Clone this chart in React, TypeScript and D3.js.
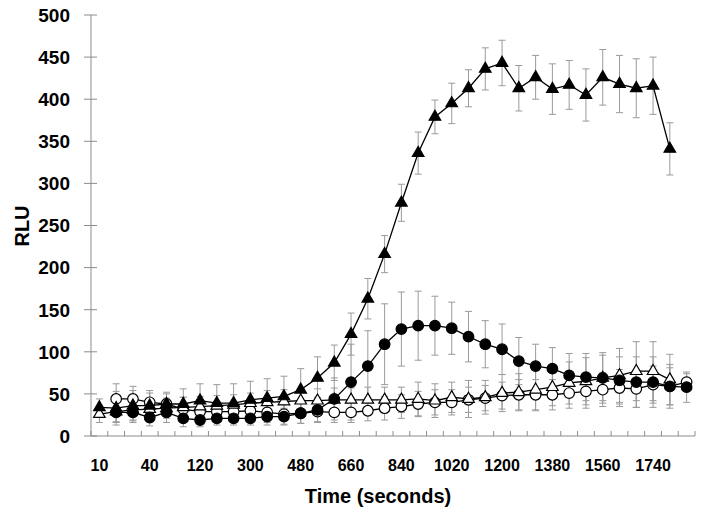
import { useRef, useEffect } from "react";
import * as d3 from "d3";

// sampling times (s), one category per point
const times = [
  10, 20, 30, 40, 60, 90, 120, 180, 240, 300, 360, 420, 480, 540, 600, 660, 720, 780,
  840, 900, 960, 1020, 1080, 1140, 1200, 1260, 1320, 1380, 1440, 1500, 1560, 1620, 1680,
  1740, 1800, 1860,
];
const tickLabels = ["10", "40", "120", "300", "480", "660", "840", "1020", "1200", "1380", "1560", "1740"];
const yTicks = [0, 50, 100, 150, 200, 250, 300, 350, 400, 450, 500];

// filled triangles
const triFilled = [
  34, 33, 36, 36, 38, 38, 42, 39, 39, 43, 45, 47, 55, 69, 87, 121, 163, 216, 277, 336, 379,
  395, 413, 436, 443, 413, 426, 412, 417, 405, 426, 418, 413, 416, 341,
];
const triFilledErr = [
  10, 20, 18, 15, 14, 18, 20, 22, 23, 22, 23, 24, 25, 25, 21, 25, 24, 22, 22, 25, 20, 24, 22,
  25, 27, 27, 26, 30, 29, 31, 33, 34, 35, 34, 31,
];
// filled circles (no reading at the first time point)
const circFilled: (number | null)[] = [
  null, 28, 28, 22, 28, 21, 19, 21, 21, 21, 23, 23, 27, 31, 44, 64, 83, 109, 127, 131, 131, 128,
  118, 109, 103, 89, 83, 80, 72, 70, 69, 66, 64, 64, 59, 58,
];
const circFilledErr = [
  0, 12, 12, 10, 12, 10, 8, 8, 8, 8, 10, 10, 12, 15, 25, 45, 42, 48, 44, 41, 35, 31, 30, 28,
  30, 28, 26, 25, 26, 28, 27, 28, 30, 30, 26, 18,
];
// open circles (no reading at the first time point)
const circOpen: (number | null)[] = [
  null, 44, 44, 40, 38, 32, 29, 29, 29, 30, 28, 26, 27, 29, 28, 28, 30, 33, 35, 38, 40, 40, 43,
  45, 48, 49, 49, 49, 51, 53, 55, 57, 56, 61, 59, 64,
];
const circOpenErr = [
  0, 18, 15, 14, 12, 14, 12, 12, 12, 12, 12, 12, 12, 12, 12, 12, 12, 14, 14, 15, 15, 15, 15,
  15, 16, 18, 18, 18, 18, 20, 20, 22, 22, 22, 22, 10,
];
// open triangles
const triOpen = [
  26, 29, 31, 32, 33, 34, 35, 36, 37, 39, 40, 41, 42, 42, 43, 43, 43, 43, 43, 44, 42, 46, 44,
  46, 51, 52, 55, 58, 63, 65, 69, 72, 77, 77, 67,
];
const triOpenErr = [
  10, 12, 12, 12, 12, 12, 12, 12, 12, 12, 14, 14, 14, 14, 14, 14, 15, 15, 15, 20, 20, 18, 22,
  20, 22, 22, 25, 22, 25, 28, 30, 32, 35, 35, 30,
];

export default function App() {
  const svgRef = useRef<SVGSVGElement>(null);

  useEffect(() => {
    if (!svgRef.current) return;
    const width = 702;
    const height = 516;
    const left = 91;
    const right = 695;
    const top = 15;
    const bottom = 436;

    const svg = d3.select(svgRef.current);
    svg.selectAll("*").remove();
    svg.attr("width", width).attr("height", height);

    const x = d3.scaleBand<number>().domain(times).range([left, right]).padding(0);
    const bw = x.bandwidth();
    const cx = (i: number) => (x(times[i]) ?? 0) + bw / 2;
    const y = d3.scaleLinear().domain([0, 500]).range([bottom, top]);

    const axisColor = "#8c8c8c";
    const font = "Liberation Sans, Arial, sans-serif";

    // y axis
    svg.append("line")
      .attr("x1", left).attr("x2", left).attr("y1", y(500)).attr("y2", y(0))
      .attr("stroke", axisColor);
    svg.selectAll(".ytick")
      .data(yTicks)
      .join("line")
      .attr("x1", left - 7).attr("x2", left + 6)
      .attr("y1", (d) => y(d)).attr("y2", (d) => y(d))
      .attr("stroke", axisColor);
    svg.selectAll(".ylab")
      .data(yTicks)
      .join("text")
      .attr("x", 70)
      .attr("y", (d) => y(d))
      .attr("dy", "0.36em")
      .attr("text-anchor", "end")
      .style("font-family", font)
      .style("font-weight", "bold")
      .style("font-size", "19px")
      .text((d) => d);

    // x axis
    svg.append("line")
      .attr("x1", left).attr("x2", right).attr("y1", bottom).attr("y2", bottom)
      .attr("stroke", axisColor);
    const bounds = [...times.map((t) => x(t) ?? 0), right];
    svg.selectAll(".xtick")
      .data(bounds)
      .join("line")
      .attr("x1", (d) => d).attr("x2", (d) => d)
      .attr("y1", bottom - 5).attr("y2", bottom)
      .attr("stroke", axisColor);
    svg.selectAll(".xlab")
      .data(tickLabels)
      .join("text")
      .attr("x", (_, i) => cx(i * 3))
      .attr("y", 471)
      .attr("text-anchor", "middle")
      .style("font-family", font)
      .style("font-weight", "bold")
      .style("font-size", "16px")
      .text((d) => d);

    svg.append("text")
      .attr("x", 378).attr("y", 503)
      .attr("text-anchor", "middle")
      .style("font-family", font)
      .style("font-weight", "bold")
      .style("font-size", "20px")
      .text("Time (seconds)");
    svg.append("text")
      .attr("transform", `translate(29,226) rotate(-90)`)
      .attr("text-anchor", "middle")
      .style("font-family", font)
      .style("font-weight", "bold")
      .style("font-size", "20px")
      .text("RLU");

    const series = [
      { vals: circOpen, err: circOpenErr, shape: "circle", fill: "#fff" },
      { vals: triOpen, err: triOpenErr, shape: "triangle", fill: "#fff" },
      { vals: circFilled, err: circFilledErr, shape: "circle", fill: "#000" },
      { vals: triFilled, err: triFilledErr, shape: "triangle", fill: "#000" },
    ];

    // error bars
    const eb = svg.append("g").attr("stroke", "#9a9a9a").attr("stroke-width", 1);
    series.forEach((s) => {
      s.vals.forEach((v, i) => {
        if (v == null) return;
        const e = s.err[i];
        const px = cx(i);
        eb.append("line").attr("x1", px).attr("x2", px).attr("y1", y(v + e)).attr("y2", y(v - e));
        eb.append("line").attr("x1", px - 3.5).attr("x2", px + 3.5).attr("y1", y(v + e)).attr("y2", y(v + e));
        eb.append("line").attr("x1", px - 3.5).attr("x2", px + 3.5).attr("y1", y(v - e)).attr("y2", y(v - e));
      });
    });

    const line = d3
      .line<number | null>()
      .defined((d) => d != null)
      .x((_, i) => cx(i))
      .y((d) => y(d as number));
    const tri = d3.symbol().type(d3.symbolTriangle).size(58);

    series.forEach((s) => {
      svg.append("path")
        .datum(s.vals)
        .attr("d", line)
        .attr("fill", "none")
        .attr("stroke", "#000")
        .attr("stroke-width", 1.3);
      const pts = s.vals
        .map((v, i) => ({ v, i }))
        .filter((p): p is { v: number; i: number } => p.v != null);
      const g = svg.append("g");
      if (s.shape === "circle") {
        g.selectAll("circle")
          .data(pts)
          .join("circle")
          .attr("cx", (p) => cx(p.i))
          .attr("cy", (p) => y(p.v))
          .attr("r", 5.3)
          .attr("fill", s.fill)
          .attr("stroke", "#000")
          .attr("stroke-width", 1.2);
      } else {
        g.selectAll("path")
          .data(pts)
          .join("path")
          .attr("d", tri)
          .attr("transform", (p) => `translate(${cx(p.i)},${y(p.v)})`)
          .attr("fill", s.fill)
          .attr("stroke", "#000")
          .attr("stroke-width", 1.2);
      }
    });
  }, []);

  return <svg ref={svgRef} style={{ position: "absolute", left: 0, top: 0 }} />;
}
